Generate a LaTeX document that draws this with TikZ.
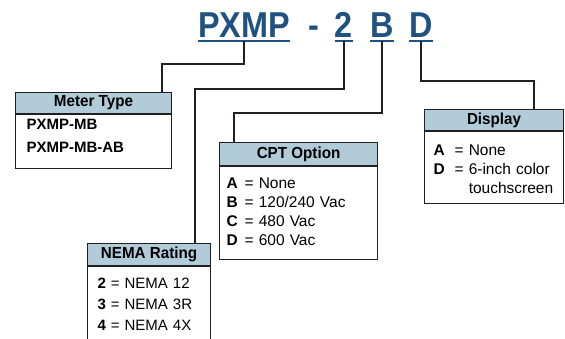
\documentclass[tikz,border=0pt]{standalone}
\usepackage{fontspec}
\setmainfont{Liberation Sans}
\newfontfamily\condfont{Liberation Sans}[FakeStretch=0.9]
\newfontfamily\hdrfont{Liberation Sans}[FakeStretch=0.95]
\usetikzlibrary{positioning, calc}
\definecolor{pxblue}{RGB}{31,82,128}
\definecolor{hdrgray}{RGB}{178,203,216}
\definecolor{mydark}{RGB}{35,31,32}
\newcommand{\optkey}[2][18pt]{\makebox[#1][l]{\bfseries #2}}
\tikzset{
  code/.style={font=\condfont\fontsize{36}{36}\selectfont\bfseries, text=pxblue,
    inner sep=0pt, anchor=base},
  uline/.style={pxblue, line width=2pt},
  conn/.style={mydark, line width=2pt},
  hdr/.style={rectangle, draw=mydark, fill=hdrgray, line width=1.1pt,
    anchor=north west, font=\hdrfont\fontsize{16}{16}\selectfont\bfseries, inner sep=0pt},
  body/.style={rectangle, draw=mydark, line width=1.1pt, anchor=north west,
    align=left, inner ysep=0pt, font=\fontsize{15.5}{19}\selectfont}
}
\begin{document}
\begin{tikzpicture}[x=1pt, y=-1pt]
  \clip (0,0) rectangle (565,339);

  % --- part number ---
  \node[code] (pxmp) at (244,38) {PXMP};
  \node[code] (dash) at (314,38) {-};
  \node[code] (c2) at (344,38) {2};
  \node[code] (cB) at (382,38) {B};
  \node[code] (cD) at (421,38) {D};
  \foreach \n in {pxmp, c2, cB, cD} {
    \draw[uline] ([yshift=-3pt]\n.base west) -- ([yshift=-3pt]\n.base east);
    \coordinate (u-\n) at ([yshift=-3pt]\n.base);
  }

  % --- Meter Type ---
  \node[hdr, minimum width=156pt, minimum height=21pt] (mthead) at (15,92) {Meter Type};
  \node[body, inner xsep=11pt, text width=134pt, text height=15pt, text depth=39pt,
    font=\fontsize{15}{23}\selectfont\bfseries] (mtbody) at (mthead.south west)
    {PXMP-MB\\PXMP-MB-AB};

  % --- NEMA Rating ---
  \node[hdr, minimum width=123pt, minimum height=22pt] (nmhead) at (87,243) {NEMA Rating};
  \node[body, inner xsep=10pt, text width=103pt, text height=22pt, text depth=100pt,
    font=\fontsize{15}{21}\selectfont] (nmbody) at (nmhead.south west)
    {\textbf{2} = NEMA 12\\\textbf{3} = NEMA 3R\\\textbf{4} = NEMA 4X};

  % --- CPT Option ---
  \node[hdr, minimum width=158pt, minimum height=23pt] (cphead) at (219,142) {CPT Option};
  \node[body, inner xsep=7pt, text width=144pt, text height=22pt, text depth=71pt]
    (cpbody) at (cphead.south west)
    {\optkey{A}= None\\\optkey{B}= 120/240 Vac\\\optkey{C}= 480 Vac\\\optkey{D}= 600 Vac};

  % --- Display ---
  \node[hdr, minimum width=139pt, minimum height=21pt] (dphead) at (424,109) {Display};
  \node[body, inner xsep=9pt, text width=121pt, text height=24pt, text depth=48pt]
    (dpbody) at (dphead.south west)
    {\optkey[21pt]{A}= None\\\optkey[21pt]{D}= 6-inch color\\
     \optkey[21pt]{}\phantom{= }touchscreen};

  % --- connectors ---
  \draw[conn] (u-pxmp) -- ++(0,23) -| ([xshift=-10pt]mthead.north east);
  \draw[conn] (u-c2) -- ++(0,48) -| ([xshift=-16pt]nmhead.north east);
  \draw[conn] (u-cB) -- ++(0,72) -| ([xshift=15pt]cphead.north west);
  \draw[conn] (u-cD) -- ++(0,40) -| ([xshift=-30pt]dphead.north east);
\end{tikzpicture}
\end{document}
